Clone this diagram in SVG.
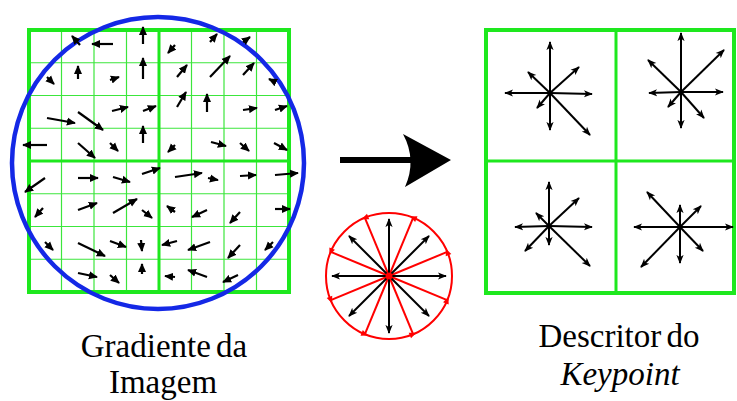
<svg xmlns="http://www.w3.org/2000/svg" width="737" height="401" viewBox="0 0 737 401">
<style>
.thick{stroke:#1ee81e;stroke-width:4;fill:none}
.mid{stroke:#1ee81e;stroke-width:3;fill:none}
.thin{stroke:#3ce63c;stroke-width:1.2;fill:none}
.ga line{stroke:#000;stroke-width:2.2;marker-end:url(#ah)}
.da line{stroke:#000;stroke-width:2;marker-end:url(#ah2)}
.lbl{font-family:"Liberation Serif","Times New Roman",serif;font-size:33px;fill:#000;text-anchor:middle}
</style>
<defs>
<marker id="ah" viewBox="0 0 10 10" refX="9" refY="5" markerWidth="9" markerHeight="9" markerUnits="userSpaceOnUse" orient="auto"><path d="M0,0.5 L10,5 L0,9.5 Z" fill="#000"/></marker>
<marker id="ah2" viewBox="0 0 10 10" refX="9" refY="5" markerWidth="9" markerHeight="9" markerUnits="userSpaceOnUse" orient="auto"><path d="M0,1 L10,5 L0,9 L2.5,5 Z" fill="#000"/></marker>
<polygon id="rt" points="-3.5,-3 3.5,0 -3.5,3" fill="#f00"/>
</defs>
<rect width="737" height="401" fill="#fff"/>

<g id="gradient-grid">
<g class="thin">
<line x1="61.5" y1="30" x2="61.5" y2="292"/><line x1="94" y1="30" x2="94" y2="292"/><line x1="126.5" y1="30" x2="126.5" y2="292"/>
<line x1="191.5" y1="30" x2="191.5" y2="292"/><line x1="224" y1="30" x2="224" y2="292"/><line x1="256.5" y1="30" x2="256.5" y2="292"/>
<line x1="29" y1="62.75" x2="289" y2="62.75"/><line x1="29" y1="95.5" x2="289" y2="95.5"/><line x1="29" y1="128.25" x2="289" y2="128.25"/>
<line x1="29" y1="193.75" x2="289" y2="193.75"/><line x1="29" y1="226.5" x2="289" y2="226.5"/><line x1="29" y1="259.25" x2="289" y2="259.25"/>
</g>
<line class="mid" x1="159" y1="30" x2="159" y2="292"/>
<line class="mid" x1="29" y1="161" x2="289" y2="161"/>
<rect class="thick" x="29" y="30" width="260" height="262"/>
<circle cx="158" cy="163" r="146" fill="none" stroke="#1428e6" stroke-width="4.5"/>
<g class="ga">
<line x1="80" y1="45" x2="72" y2="36"/><line x1="113" y1="44" x2="92" y2="44"/><line x1="143" y1="44" x2="143" y2="27"/>
<line x1="47" y1="77" x2="54" y2="84"/><line x1="78" y1="79" x2="78" y2="66"/><line x1="110" y1="80" x2="119" y2="77"/><line x1="143" y1="79" x2="143" y2="58"/>
<line x1="47" y1="118" x2="75" y2="123"/><line x1="78" y1="112" x2="103" y2="130"/><line x1="112" y1="111" x2="128" y2="107"/><line x1="143" y1="111" x2="156" y2="106"/>
<line x1="47" y1="145" x2="23" y2="145"/><line x1="143" y1="143" x2="143" y2="126"/><line x1="78" y1="143" x2="95" y2="158"/><line x1="110" y1="143" x2="118" y2="151"/>
<line x1="175" y1="45" x2="168" y2="53"/><line x1="210" y1="42" x2="217" y2="34"/><line x1="243" y1="42" x2="250" y2="37"/>
<line x1="177" y1="77" x2="187" y2="65"/><line x1="210" y1="77" x2="230" y2="56"/><line x1="243" y1="75" x2="254" y2="63"/><line x1="275" y1="82" x2="269" y2="79"/>
<line x1="177" y1="107" x2="186" y2="92"/><line x1="207" y1="112" x2="207" y2="94"/><line x1="243" y1="110" x2="257" y2="108"/><line x1="275" y1="110" x2="287" y2="106"/>
<line x1="175" y1="145" x2="168" y2="152"/><line x1="211" y1="142" x2="226" y2="146"/><line x1="240" y1="143" x2="249" y2="151"/><line x1="274" y1="143" x2="287" y2="150"/>
<line x1="45" y1="178" x2="25" y2="192"/><line x1="78" y1="178" x2="98" y2="178"/><line x1="113" y1="177" x2="130" y2="182"/><line x1="142" y1="174" x2="160" y2="168"/>
<line x1="43" y1="208" x2="35" y2="217"/><line x1="78" y1="210" x2="97" y2="203"/><line x1="113" y1="213" x2="137" y2="199"/><line x1="142" y1="210" x2="152" y2="218"/>
<line x1="45" y1="242" x2="53" y2="250"/><line x1="78" y1="243" x2="105" y2="256"/><line x1="110" y1="241" x2="126" y2="247"/><line x1="141" y1="240" x2="142" y2="251"/>
<line x1="78" y1="273" x2="97" y2="277"/><line x1="110" y1="275" x2="119" y2="283"/><line x1="142" y1="274" x2="142" y2="264"/>
<line x1="175" y1="177" x2="202" y2="173"/><line x1="208" y1="178" x2="218" y2="180"/><line x1="240" y1="176" x2="256" y2="175"/><line x1="275" y1="175" x2="298" y2="173"/>
<line x1="175" y1="212" x2="167" y2="206"/><line x1="207" y1="210" x2="192" y2="217"/><line x1="240" y1="212" x2="230" y2="223"/><line x1="275" y1="209" x2="290" y2="209"/>
<line x1="177" y1="241" x2="162" y2="245"/><line x1="210" y1="242" x2="188" y2="250"/><line x1="240" y1="245" x2="228" y2="258"/><line x1="273" y1="242" x2="265" y2="250"/>
<line x1="175" y1="277" x2="165" y2="276"/><line x1="207" y1="277" x2="188" y2="270"/><line x1="238" y1="275" x2="223" y2="282"/>
</g>
</g>

<g id="connectors">
<line x1="340" y1="160" x2="412" y2="160" stroke="#000" stroke-width="6"/>
<path d="M403,134 L451,160 L405,187 Q417,160 403,134 Z" fill="#000"/>
</g>

<g id="orientation-circle">
<circle cx="389" cy="276" r="63" fill="none" stroke="#f00" stroke-width="2"/>
<g stroke="#f00" stroke-width="2">
<line x1="389" y1="276" x2="447.2" y2="251.9"/><line x1="389" y1="276" x2="413.1" y2="217.8"/>
<line x1="389" y1="276" x2="364.9" y2="217.8"/><line x1="389" y1="276" x2="330.8" y2="251.9"/>
<line x1="389" y1="276" x2="330.8" y2="300.1"/><line x1="389" y1="276" x2="364.9" y2="334.2"/>
<line x1="389" y1="276" x2="413.1" y2="334.2"/><line x1="389" y1="276" x2="447.2" y2="300.1"/>
</g>
<use href="#rt" transform="translate(447.2,251.9) rotate(-112.5)"/>
<use href="#rt" transform="translate(413.1,217.8) rotate(-157.5)"/>
<use href="#rt" transform="translate(364.9,217.8) rotate(-202.5)"/>
<use href="#rt" transform="translate(330.8,251.9) rotate(-247.5)"/>
<use href="#rt" transform="translate(330.8,300.1) rotate(-292.5)"/>
<use href="#rt" transform="translate(364.9,334.2) rotate(-337.5)"/>
<use href="#rt" transform="translate(413.1,334.2) rotate(-22.5)"/>
<use href="#rt" transform="translate(447.2,300.1) rotate(-67.5)"/>
<g class="da">
<line x1="389" y1="276" x2="389" y2="219"/><line x1="389" y1="276" x2="389" y2="333"/>
<line x1="389" y1="276" x2="332" y2="276"/><line x1="389" y1="276" x2="446" y2="276"/>
<line x1="389" y1="276" x2="429" y2="236"/><line x1="389" y1="276" x2="349" y2="236"/>
<line x1="389" y1="276" x2="349" y2="316"/><line x1="389" y1="276" x2="429" y2="316"/>
</g>
<circle cx="389" cy="276" r="3.5" fill="#f00"/>
</g>

<g id="descriptor">
<line class="mid" x1="616" y1="30" x2="616" y2="293"/>
<line class="mid" x1="486" y1="161" x2="734" y2="161"/>
<rect class="thick" x="486" y="30" width="248" height="263"/>
<g class="da">
<line x1="550" y1="93" x2="550" y2="42"/><line x1="550" y1="93" x2="550" y2="130"/><line x1="550" y1="93" x2="505" y2="93"/><line x1="550" y1="93" x2="592" y2="94"/>
<line x1="550" y1="93" x2="579" y2="67"/><line x1="550" y1="93" x2="528" y2="72"/><line x1="550" y1="93" x2="537" y2="108"/><line x1="550" y1="93" x2="590" y2="135"/>
<line x1="681" y1="92" x2="681" y2="33"/><line x1="681" y1="92" x2="681" y2="128"/><line x1="681" y1="92" x2="649" y2="93"/><line x1="681" y1="92" x2="723" y2="92"/>
<line x1="681" y1="92" x2="724" y2="50"/><line x1="681" y1="92" x2="648" y2="60"/><line x1="681" y1="92" x2="668" y2="107"/><line x1="681" y1="92" x2="704" y2="118"/>
<line x1="549" y1="226" x2="549" y2="182"/><line x1="549" y1="226" x2="549" y2="245"/><line x1="549" y1="226" x2="515" y2="227"/><line x1="549" y1="226" x2="592" y2="227"/>
<line x1="549" y1="226" x2="579" y2="198"/><line x1="549" y1="226" x2="536" y2="213"/><line x1="549" y1="226" x2="525" y2="251"/><line x1="549" y1="226" x2="590" y2="266"/>
<line x1="680" y1="227" x2="680" y2="205"/><line x1="680" y1="227" x2="680" y2="263"/><line x1="680" y1="227" x2="634" y2="227"/><line x1="680" y1="227" x2="733" y2="227"/>
<line x1="680" y1="227" x2="701" y2="206"/><line x1="680" y1="227" x2="647" y2="192"/><line x1="680" y1="227" x2="641" y2="267"/><line x1="680" y1="227" x2="703" y2="251"/>
</g>
</g>

<g id="labels">
<text class="lbl" x="164" y="357" word-spacing="-3">Gradiente da</text>
<text class="lbl" x="163" y="393">Imagem</text>
<text class="lbl" x="619" y="347" word-spacing="-3">Descritor do</text>
<text class="lbl" x="620" y="385" font-style="italic">Keypoint</text>
</g>
</svg>
